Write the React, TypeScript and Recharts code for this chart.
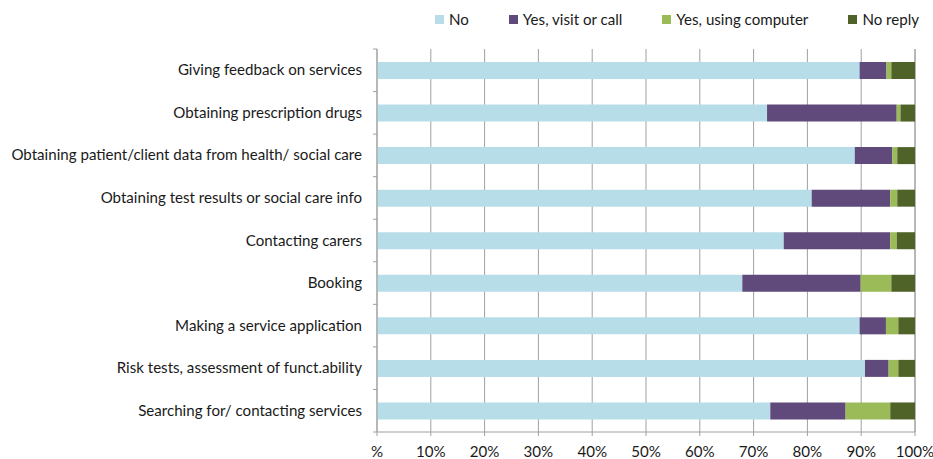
import React from 'react';
import { BarChart, Bar, XAxis, YAxis, CartesianGrid, Legend } from 'recharts';

const categories = [
  'Giving feedback on services',
  'Obtaining prescription drugs',
  'Obtaining patient/client data from health/ social care',
  'Obtaining test results or social care info',
  'Contacting carers',
  'Booking',
  'Making a service application',
  'Risk tests, assessment of funct.ability',
  'Searching for/ contacting services',
];

const noValues = [89.7, 72.5, 88.8, 80.8, 75.6, 67.9, 89.7, 90.7, 73.1];
const visitValues = [5.0, 24.1, 7.0, 14.6, 19.8, 22.0, 4.9, 4.4, 14.0];
const computerValues = [0.9, 0.7, 0.9, 1.3, 1.2, 5.7, 2.3, 1.8, 8.3];
const noReplyValues = [4.4, 2.7, 3.3, 3.3, 3.4, 4.4, 3.1, 3.1, 4.6];

const xTicks = [0, 10, 20, 30, 40, 50, 60, 70, 80, 90, 100];

const series = [
  { key: 'no', name: 'No', color: '#b7dde8' },
  { key: 'visit', name: 'Yes, visit or call', color: '#604a7b' },
  { key: 'computer', name: 'Yes, using computer', color: '#9bbb59' },
  { key: 'noReply', name: 'No reply', color: '#4f6228' },
];

const data = categories.map((name, i) => ({
  name,
  no: noValues[i],
  visit: visitValues[i],
  computer: computerValues[i],
  noReply: noReplyValues[i],
}));

const FONT = 'Lato, sans-serif';
const FONT_SIZE = 15.1;
const AXIS_GREY = '#a0a0a0';
const TOP = 49;
const X_AXIS_H = 27;
const H = 459;
const BAND = (H - TOP - X_AXIS_H) / categories.length;

function CategoryTick(props: any) {
  const { x, y, payload, index } = props;
  return (
    <g>
      <line x1={x + 11} x2={x + 15} y1={y - BAND / 2} y2={y - BAND / 2} stroke={AXIS_GREY} />
      {index === categories.length - 1 && (
        <line x1={x + 11} x2={x + 15} y1={y + BAND / 2} y2={y + BAND / 2} stroke={AXIS_GREY} />
      )}
      <text x={x} y={y} dy={5} textAnchor="end" fill="#1a1a1a" fontSize={FONT_SIZE} fontFamily={FONT}>
        {payload.value}
      </text>
    </g>
  );
}

function LegendContent() {
  return (
    <div style={{ display: 'flex', gap: 40, fontFamily: FONT, fontSize: FONT_SIZE, color: '#1a1a1a' }}>
      {series.map(s => (
        <div key={s.key} style={{ display: 'flex', alignItems: 'center', gap: 5, whiteSpace: 'nowrap' }}>
          <div style={{ width: 9, height: 9, background: s.color }} />
          <span>{s.name}</span>
        </div>
      ))}
    </div>
  );
}

export default function App() {
  return (
    <div style={{ position: 'absolute', left: 0, top: 0, width: 933, height: 459, background: '#fff' }}>
      <BarChart
        width={933}
        height={459}
        data={data}
        layout="vertical"
        barCategoryGap={0}
        margin={{ top: TOP, right: 18, bottom: 0, left: 0 }}
      >
        <CartesianGrid horizontal={false} stroke={AXIS_GREY} />
        <XAxis
          type="number"
          domain={[0, 100]}
          ticks={xTicks}
          interval={0}
          height={X_AXIS_H}
          tickFormatter={(v: number) => (v === 0 ? '%' : `${v}%`)}
          tick={{ fontSize: FONT_SIZE, fill: '#1a1a1a', fontFamily: FONT }}
          stroke={AXIS_GREY}
          tickSize={4}
          tickMargin={10}
        />
        <YAxis
          type="category"
          dataKey="name"
          width={377}
          interval={0}
          tickLine={false}
          stroke={AXIS_GREY}
          tick={<CategoryTick />}
          tickSize={5}
          tickMargin={10}
        />
        <Legend
          layout="vertical"
          align="center"
          verticalAlign="middle"
          content={<LegendContent />}
          wrapperStyle={{ position: 'absolute', top: 10, left: 435, width: 'auto' }}
        />
        {series.map(s => (
          <Bar
            key={s.key}
            dataKey={s.key}
            name={s.name}
            stackId="a"
            fill={s.color}
            barSize={17}
            isAnimationActive={false}
          />
        ))}
      </BarChart>
    </div>
  );
}
